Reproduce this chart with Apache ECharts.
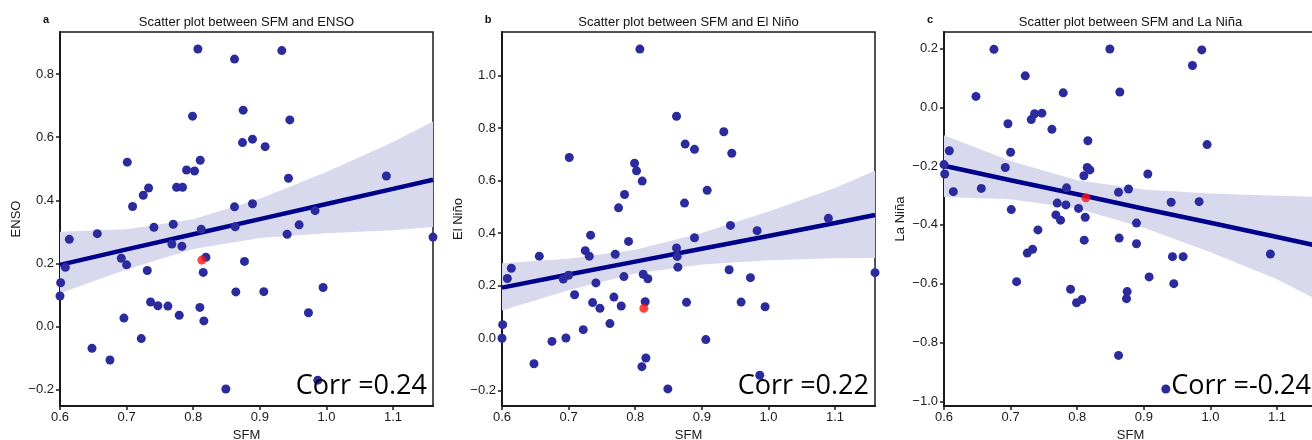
<!DOCTYPE html>
<html><head><meta charset="utf-8">
<script src="https://cdn.jsdelivr.net/npm/echarts@6/dist/echarts.min.js"></script>
<style>html,body{margin:0;padding:0;background:#fff}#c{width:1312px;height:440px}</style>
</head><body><div id="c"></div>
<script>
// ---- data ----
const sfm = [0.600,0.601,0.608,0.614,0.648,0.656,0.675,0.692,0.696,0.700,0.701,0.709,0.722,0.725,0.731,0.733,0.736,0.741,0.747,0.762,0.768,0.770,0.775,0.779,0.783,0.784,0.790,0.799,0.802,0.807,0.810,0.8105,0.812,0.815,0.816,0.819,0.849,0.862,0.862,0.863,0.864,0.874,0.875,0.877,0.889,0.889,0.906,0.908,0.933,0.941,0.943,0.945,0.959,0.973,0.983,0.987,0.995,1.090,1.160];
const enso = [0.096,0.138,0.187,0.276,-0.070,0.294,-0.107,0.216,0.026,0.195,0.521,0.380,-0.039,0.416,0.177,0.439,0.077,0.314,0.065,0.064,0.261,0.324,0.441,0.035,0.254,0.441,0.496,0.667,0.493,0.880,0.060,0.527,0.308,0.171,0.017,0.219,-0.199,0.848,0.379,0.316,0.109,0.583,0.686,0.206,0.389,0.594,0.110,0.570,0.875,0.292,0.470,0.655,0.322,0.043,0.367,-0.171,0.123,0.477,0.283];
const elNino = [-0.001,0.051,0.227,0.266,-0.098,0.312,-0.013,0.225,0.000,0.239,0.688,0.165,0.032,0.333,0.312,0.392,0.135,0.210,0.113,0.055,0.156,0.319,0.496,0.122,0.234,0.547,0.368,0.666,0.637,1.101,-0.109,0.598,0.243,0.138,-0.076,0.226,-0.194,0.845,0.343,0.311,0.270,0.514,0.739,0.136,0.382,0.719,-0.006,0.563,0.786,0.260,0.429,0.704,0.137,0.230,0.409,-0.142,0.119,0.456,0.249];
// last La Niña value lies outside the visible picture (unknown)
const laNina = [-0.195,-0.227,-0.148,-0.287,0.037,-0.276,0.197,-0.205,-0.056,-0.153,-0.348,-0.593,0.107,-0.496,-0.042,-0.483,-0.022,-0.417,-0.020,-0.075,-0.366,-0.326,-0.384,0.049,-0.332,-0.274,-0.619,-0.665,-0.344,-0.654,-0.233,-0.452,-0.374,-0.205,-0.114,-0.213,0.198,-0.289,-0.844,-0.445,0.052,-0.651,-0.627,-0.278,-0.394,-0.464,-0.227,-0.577,-0.958,-0.323,-0.508,-0.600,-0.508,0.142,-0.321,0.195,-0.127,-0.499,null];
// highlighted (red) observation
const redSfm = 0.813;
const redValues = [0.210, 0.113, -0.308];

// regression fit and confidence band, read at these SFM values
const fitX = [0.6, 0.7, 0.8, 0.9, 1.0, 1.1, 1.16];
const ensoFit   = [0.195, 0.244, 0.292, 0.340, 0.388, 0.436, 0.465];
const ensoUpper = [0.300, 0.308, 0.340, 0.405, 0.490, 0.585, 0.650];
const ensoLower = [0.105, 0.180, 0.245, 0.280, 0.295, 0.305, 0.315];
const elNinoFit   = [0.192, 0.242, 0.291, 0.340, 0.389, 0.438, 0.469];
const elNinoUpper = [0.285, 0.302, 0.336, 0.400, 0.482, 0.572, 0.637];
const elNinoLower = [0.105, 0.182, 0.246, 0.280, 0.296, 0.304, 0.305];
const laNinaFit   = [-0.199, -0.248, -0.296, -0.345, -0.393, -0.441, -0.471];
const laNinaUpper = [-0.095, -0.183, -0.248, -0.280, -0.293, -0.301, -0.305];
const laNinaLower = [-0.305, -0.313, -0.344, -0.410, -0.493, -0.585, -0.655];

// ticks and labels
const xTicks = [0.6, 0.7, 0.8, 0.9, 1.0, 1.1];
const ensoTicks = [-0.2, 0, 0.2, 0.4, 0.6, 0.8];
const elNinoTicks = [-0.2, 0, 0.2, 0.4, 0.6, 0.8, 1.0];
const laNinaTicks = [-1.0, -0.8, -0.6, -0.4, -0.2, 0, 0.2];
const titles = ['Scatter plot between SFM and ENSO', 'Scatter plot between SFM and El Niño', 'Scatter plot between SFM and La Niña'];
const yNames = ['ENSO', 'El Niño', 'La Niña'];
const letters = ['a', 'b', 'c'];
const corrLabels = ['Corr =0.24', 'Corr =0.22', 'Corr =-0.24'];

// ---- layout & style ----
const FONT = '"Liberation Sans", Arial, sans-serif';
const gridLefts = [60, 502, 944];
const GT = 32, GW = 373, GH = 374;
const xRange = [0.6, 1.16];
const yRanges = [[-0.253, 0.934], [-0.259, 1.166], [-1.016, 0.256]];
const yTickSets = [ensoTicks, elNinoTicks, laNinaTicks];
const yData = [enso, elNino, laNina];
const fits = [ensoFit, elNinoFit, laNinaFit];
const uppers = [ensoUpper, elNinoUpper, laNinaUpper];
const lowers = [ensoLower, elNinoLower, laNinaLower];

const fmt = v => v.toFixed(1).replace('-', '\u2212');
const axisCommon = {
  axisLine: { show: true, onZero: false, lineStyle: { color: '#1a1a1a', width: 2 } },
  axisTick: { show: true, length: 4, lineStyle: { color: '#1a1a1a', width: 1.5 } },
  splitLine: { show: false },
};

const grids = [], xAxes = [], yAxes = [], series = [], graphics = [];
for (let i = 0; i < 3; i++) {
  grids.push({ left: gridLefts[i], top: GT, width: GW, height: GH, outerBoundsMode: 'none', containLabel: false,
    show: true, borderColor: '#1a1a1a', borderWidth: 1.5, backgroundColor: 'transparent' });
  xAxes.push(Object.assign({}, axisCommon, {
    gridIndex: i, type: 'value', min: xRange[0], max: xRange[1],
    axisTick: Object.assign({}, axisCommon.axisTick, { customValues: xTicks }),
    axisLabel: { customValues: xTicks, formatter: fmt, color: '#1a1a1a', fontSize: 13, fontFamily: FONT, margin: 5 },
    name: 'SFM', nameLocation: 'middle', nameGap: 23,
    nameTextStyle: { color: '#1a1a1a', fontSize: 13, fontFamily: FONT }
  }));
  yAxes.push(Object.assign({}, axisCommon, {
    gridIndex: i, type: 'value', min: yRanges[i][0], max: yRanges[i][1],
    axisTick: Object.assign({}, axisCommon.axisTick, { customValues: yTickSets[i] }),
    axisLabel: { customValues: yTickSets[i], formatter: fmt, color: '#1a1a1a', fontSize: 13, fontFamily: FONT, margin: 6 },
    name: yNames[i], nameLocation: 'middle', nameGap: 37,
    nameTextStyle: { color: '#1a1a1a', fontSize: 13, fontFamily: FONT }
  }));
  const up = uppers[i], lo = lowers[i];
  series.push({
    type: 'custom', xAxisIndex: i, yAxisIndex: i, clip: true, silent: true, z: 1,
    data: [[fitX[0], fits[i][0]]],
    renderItem: (params, api) => {
      const pts = [];
      for (let k = 0; k < fitX.length; k++) pts.push(api.coord([fitX[k], up[k]]));
      for (let k = fitX.length - 1; k >= 0; k--) pts.push(api.coord([fitX[k], lo[k]]));
      return { type: 'polygon', shape: { points: pts }, style: { fill: '#d9d9ed' } };
    }
  });
  series.push({
    type: 'line', xAxisIndex: i, yAxisIndex: i, z: 2, silent: true, symbol: 'none', clip: true,
    data: fitX.map((x, k) => [x, fits[i][k]]),
    lineStyle: { color: '#00008b', width: 4.5 }
  });
  series.push({
    type: 'scatter', xAxisIndex: i, yAxisIndex: i, z: 3, silent: true, clip: true,
    symbolSize: 9, itemStyle: { color: '#2b2b9e', opacity: 1 },
    data: sfm.map((x, k) => [x, yData[i][k]]).filter(p => p[1] !== null)
  });
  series.push({
    type: 'scatter', xAxisIndex: i, yAxisIndex: i, z: 4, silent: true, clip: true,
    symbolSize: 9, itemStyle: { color: '#ff1414' },
    data: [[redSfm, redValues[i]]]
  });
  const cx = gridLefts[i] + GW / 2;
  graphics.push({ type: 'text', x: cx, y: 22, style: { text: titles[i], fill: '#111', fontSize: 13, fontFamily: FONT, align: 'center', verticalAlign: 'middle' } });
  graphics.push({ type: 'text', x: gridLefts[i] - 14, y: 20, style: { text: letters[i], fill: '#111', fontSize: 11, fontWeight: 'bold', fontFamily: FONT, align: 'center', verticalAlign: 'middle' } });
  graphics.push({ type: 'text', x: gridLefts[i] + GW - 6, y: 386, z: 10, style: { text: corrLabels[i], fill: '#000', fontSize: 27, fontFamily: '"Open Sans", sans-serif', align: 'right', verticalAlign: 'middle' } });
}

const chart = echarts.init(document.getElementById('c'), null, { renderer: 'canvas' });
chart.setOption({
  animation: false,
  backgroundColor: '#fff',
  grid: grids, xAxis: xAxes, yAxis: yAxes, series: series,
  graphic: { elements: graphics }
});
</script>
</body></html>
